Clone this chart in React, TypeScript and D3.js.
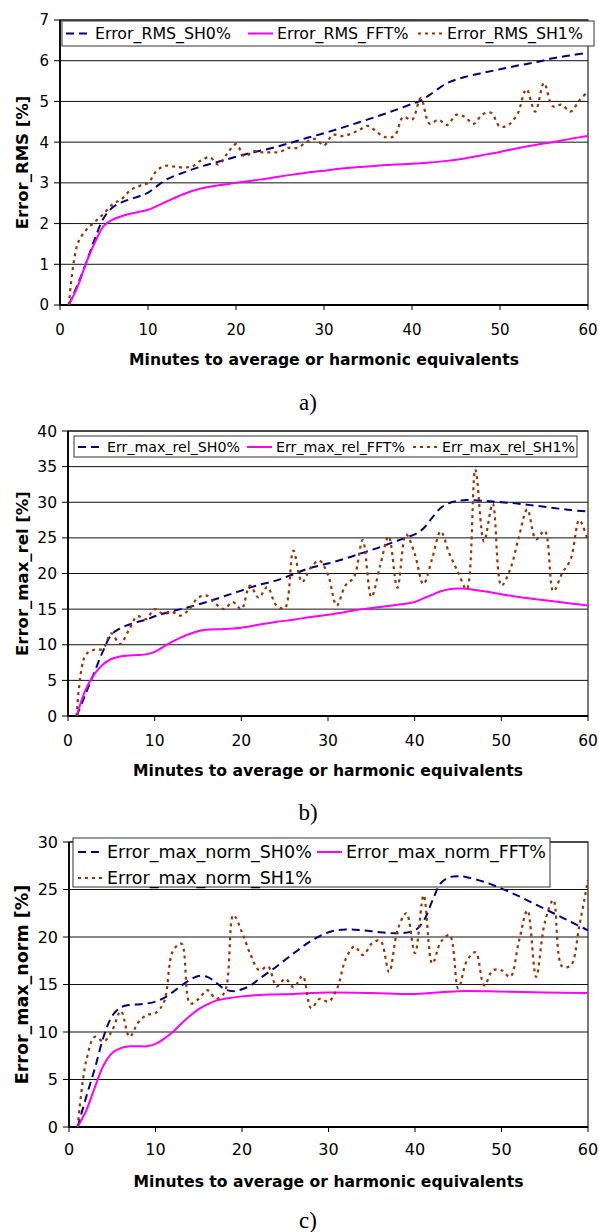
import React from 'react';
import * as d3 from 'd3';

// every minute 1..60 (used by the noisy SH1 series)
const MINUTES = [1,2,3,4,5,6,7,8,9,10,11,12,13,14,15,16,17,18,19,20,21,22,23,24,25,26,27,28,29,30,31,32,33,34,35,36,37,38,39,40,41,42,43,44,45,46,47,48,49,50,51,52,53,54,55,56,57,58,59,60];
const X_TICKS = [0, 10, 20, 30, 40, 50, 60];

// ---- panel a) Error_RMS ----
const A_SH0_X = [1,2,3,4,5,6,7,8,9,10,12,14,16,18,20,22,24,26,28,30,32,34,36,38,40,41,42,44,46,48,50,52,54,56,58,60];
const A_SH0 = [0,0.5,1.05,1.65,2.15,2.4,2.52,2.6,2.67,2.76,3.07,3.25,3.4,3.52,3.64,3.75,3.85,3.97,4.1,4.22,4.35,4.49,4.63,4.78,4.94,5.02,5.16,5.45,5.6,5.7,5.79,5.88,5.96,6.06,6.13,6.2];
const A_FFT_X = [1,2,3,4,5,6,7,8,9,10,12,14,16,18,20,22,24,26,28,30,32,34,36,38,40,42,44,46,48,50,52,54,56,58,60];
const A_FFT = [0,0.45,1.05,1.55,1.95,2.1,2.18,2.24,2.29,2.34,2.53,2.72,2.86,2.94,3.0,3.06,3.12,3.19,3.25,3.3,3.35,3.39,3.42,3.45,3.47,3.5,3.54,3.6,3.68,3.76,3.85,3.93,4.0,4.08,4.15];
const A_SH1 = [0,1.5,1.85,2.05,2.25,2.48,2.6,2.82,2.92,3.0,3.3,3.42,3.4,3.38,3.4,3.55,3.63,3.45,3.72,3.95,3.65,3.78,3.75,3.75,3.76,3.86,3.86,4.0,4.08,3.92,4.18,4.15,4.2,4.3,4.4,4.25,4.12,4.15,4.62,4.55,5.08,4.45,4.55,4.42,4.67,4.62,4.45,4.68,4.72,4.38,4.43,4.7,5.3,4.75,5.45,4.88,4.92,4.75,5.02,5.25];
const A_Y_TICKS = [0,1,2,3,4,5,6,7];

// ---- panel b) Error_max_rel ----
const B_SH0_X = [1,2,3,4,5,6,7,8,9,10,12,14,16,18,20,22,24,26,28,30,32,34,36,38,40,41,42,43,44,45,46,48,50,52,54,56,58,60];
const B_SH0 = [0,3.0,6.0,9.0,11.4,12.3,12.8,13.2,13.5,14.0,14.7,15.3,16.0,16.8,17.6,18.4,19.0,19.9,20.8,21.4,22.1,22.9,23.7,24.6,25.5,26.3,27.8,29.2,29.9,30.2,30.3,30.2,30.0,29.8,29.5,29.2,28.9,28.7];
const B_FFT_X = [1,2,3,4,5,6,7,8,9,10,11,12,13,14,15,16,18,20,22,24,26,28,30,32,34,36,38,40,41,42,43,44,45,46,48,50,52,54,56,58,60];
const B_FFT = [0,3.6,5.8,7.2,8.0,8.35,8.5,8.55,8.65,9.0,9.7,10.4,11.0,11.5,11.9,12.1,12.2,12.4,12.8,13.2,13.5,13.9,14.2,14.6,15.0,15.3,15.6,16.0,16.5,17.0,17.5,17.8,17.9,17.85,17.5,17.1,16.7,16.4,16.1,15.8,15.5];
const B_SH1 = [0,8.5,9.3,9.4,11.6,10.1,12.0,14.0,13.6,15.0,14.3,14.6,14.1,15.0,16.6,16.9,15.8,15.0,16.0,15.0,18.3,16.6,18.1,15.6,15.1,23.2,18.8,20.8,21.8,19.8,15.5,18.3,19.5,24.7,16.7,21.0,25.2,18.0,25.5,22.8,18.5,22.0,25.9,22.8,20.2,17.8,34.6,24.5,29.8,18.3,20.5,25.0,29.0,24.8,26.0,17.5,20.0,22.0,27.5,24.5];
const B_Y_TICKS = [0,5,10,15,20,25,30,35,40];

// ---- panel c) Error_max_norm ----
const C_SH0_X = [1,2,3,4,5,6,7,8,9,10,11,12,13,14,15,16,17,18,19,20,21,22,24,26,28,30,32,34,36,38,40,41,42,43,44,45,46,48,50,52,54,56,58,60];
const C_SH0 = [0,3.2,6.2,9.5,11.7,12.6,12.85,12.9,13.0,13.2,13.6,14.2,14.9,15.5,15.9,15.8,15.2,14.5,14.3,14.5,14.9,15.6,16.9,18.3,19.6,20.5,20.8,20.7,20.5,20.4,20.7,21.7,23.8,25.7,26.3,26.4,26.3,25.8,25.1,24.3,23.4,22.5,21.6,20.7];
const C_FFT_X = [1,2,3,4,5,6,7,8,9,10,11,12,13,14,15,16,17,18,20,22,24,26,28,30,35,40,45,50,55,60];
const C_FFT = [0,1.75,4.2,6.5,7.8,8.3,8.5,8.5,8.5,8.75,9.3,10.0,10.9,11.7,12.4,12.9,13.3,13.5,13.75,13.9,13.95,14.0,14.1,14.15,14.1,14.0,14.3,14.25,14.15,14.1];
const C_SH1 = [0,7.0,9.5,9.0,10.2,12.2,9.5,11.0,11.8,12.0,13.2,18.5,19.3,13.0,13.5,14.4,13.5,14.2,22.3,20.5,18.1,16.5,16.9,14.8,15.6,14.7,15.9,12.5,13.5,13.2,14.6,17.7,19.0,18.1,19.3,19.6,16.3,20.8,22.5,18.3,24.4,17.2,19.5,20.2,14.6,17.5,18.4,14.9,16.5,16.5,15.8,19.5,22.8,15.8,21.5,23.9,16.9,17.0,21.2,26.0];
const C_Y_TICKS = [0,5,10,15,20,25,30];

const X_TITLE = 'Minutes to average or harmonic equivalents';

type Kind = 'sh0' | 'fft' | 'sh1';
interface Series { name: string; kind: Kind; x: number[]; y: number[] }

const STYLE: Record<Kind, { stroke: string; width: number; dash?: string }> = {
  sh0: { stroke: '#000080', width: 2, dash: '8,5' },
  fft: { stroke: '#FF00FF', width: 2 },
  sh1: { stroke: '#993300', width: 2.2, dash: '3,4' },
};

interface LegendItem { kind: Kind; name: string; x: number; y: number }
interface PanelCfg {
  id: string;
  left: number; right: number; top: number; bottom: number;
  yMax: number; yTicks: number[];
  yTitle: string; yTitleSize: number;
  tickSize: number;
  series: Series[];
  legendBox: { x: number; y: number; w: number; h: number };
  legendItems: LegendItem[];
  legendFont: number;
  tickBase: number; titleBase: number; captionBase: number; caption: string;
}

const FONT = '"DejaVu Sans", sans-serif';

const panels: PanelCfg[] = [
  {
    id: 'a', left: 60, right: 588, top: 20, bottom: 305, yMax: 7, yTicks: A_Y_TICKS,
    yTitle: 'Error_RMS [%]', yTitleSize: 16.5, tickSize: 15,
    series: [
      { name: 'Error_RMS_SH0%', kind: 'sh0', x: A_SH0_X, y: A_SH0 },
      { name: 'Error_RMS_FFT%', kind: 'fft', x: A_FFT_X, y: A_FFT },
      { name: 'Error_RMS_SH1%', kind: 'sh1', x: MINUTES, y: A_SH1 },
    ],
    legendBox: { x: 62, y: 21, w: 532, h: 25 },
    legendItems: [
      { kind: 'sh0', name: 'Error_RMS_SH0%', x: 66, y: 33.5 },
      { kind: 'fft', name: 'Error_RMS_FFT%', x: 248, y: 33.5 },
      { kind: 'sh1', name: 'Error_RMS_SH1%', x: 418, y: 33.5 },
    ],
    legendFont: 15.8, tickBase: 335, titleBase: 365, captionBase: 410, caption: 'a)',
  },
  {
    id: 'b', left: 68, right: 588, top: 431, bottom: 716, yMax: 40, yTicks: B_Y_TICKS,
    yTitle: 'Error_max_rel [%]', yTitleSize: 16.5, tickSize: 15.5,
    series: [
      { name: 'Err_max_rel_SH0%', kind: 'sh0', x: B_SH0_X, y: B_SH0 },
      { name: 'Err_max_rel_FFT%', kind: 'fft', x: B_FFT_X, y: B_FFT },
      { name: 'Err_max_rel_SH1%', kind: 'sh1', x: MINUTES, y: B_SH1 },
    ],
    legendBox: { x: 74, y: 436, w: 503, h: 21 },
    legendItems: [
      { kind: 'sh0', name: 'Err_max_rel_SH0%', x: 78, y: 447 },
      { kind: 'fft', name: 'Err_max_rel_FFT%', x: 247, y: 447 },
      { kind: 'sh1', name: 'Err_max_rel_SH1%', x: 413, y: 447 },
    ],
    legendFont: 14.2, tickBase: 746, titleBase: 776, captionBase: 820, caption: 'b)',
  },
  {
    id: 'c', left: 69, right: 588, top: 842, bottom: 1127, yMax: 30, yTicks: C_Y_TICKS,
    yTitle: 'Error_max_norm [%]', yTitleSize: 17.5, tickSize: 16,
    series: [
      { name: 'Error_max_norm_SH0%', kind: 'sh0', x: C_SH0_X, y: C_SH0 },
      { name: 'Error_max_norm_FFT%', kind: 'fft', x: C_FFT_X, y: C_FFT },
      { name: 'Error_max_norm_SH1%', kind: 'sh1', x: MINUTES, y: C_SH1 },
    ],
    legendBox: { x: 73, y: 838, w: 477, h: 49 },
    legendItems: [
      { kind: 'sh0', name: 'Error_max_norm_SH0%', x: 78, y: 852 },
      { kind: 'fft', name: 'Error_max_norm_FFT%', x: 317, y: 852 },
      { kind: 'sh1', name: 'Error_max_norm_SH1%', x: 78, y: 878 },
    ],
    legendFont: 17.5, tickBase: 1155, titleBase: 1187, captionBase: 1228, caption: 'c)',
  },
];

const Panel: React.FC<{ cfg: PanelCfg }> = ({ cfg }) => {
  const x = d3.scaleLinear().domain([0, 60]).range([cfg.left, cfg.right]);
  const y = d3.scaleLinear().domain([0, cfg.yMax]).range([cfg.bottom, cfg.top]);
  const line = d3.line<[number, number]>()
    .x(d => x(d[0]))
    .y(d => y(d[1]))
    .curve(d3.curveCatmullRom.alpha(0.5));
  const clipId = `clip-${cfg.id}`;
  const midX = (cfg.left + cfg.right) / 2;
  const midY = (cfg.top + cfg.bottom) / 2;

  return (
    <g>
      <defs>
        <clipPath id={clipId}>
          <rect x={cfg.left} y={cfg.top - 2} width={cfg.right - cfg.left} height={cfg.bottom - cfg.top + 2} />
        </clipPath>
      </defs>
      {/* gridlines */}
      {cfg.yTicks.map(t => (
        <line key={`g${t}`} x1={cfg.left} x2={cfg.right} y1={y(t)} y2={y(t)} stroke="#111" strokeWidth={1} />
      ))}
      <rect x={cfg.left} y={cfg.top} width={cfg.right - cfg.left} height={cfg.bottom - cfg.top}
        fill="none" stroke="#222" strokeWidth={1.2} />
      {/* y axis */}
      <line x1={cfg.left} x2={cfg.left} y1={cfg.top} y2={cfg.bottom} stroke="#000" strokeWidth={1.8} />
      {cfg.yTicks.map(t => (
        <g key={`yt${t}`}>
          <line x1={cfg.left - 6} x2={cfg.left} y1={y(t)} y2={y(t)} stroke="#000" strokeWidth={1} />
          <text x={cfg.left - 11} y={y(t)} dy="0.36em" textAnchor="end"
            fontFamily={FONT} fontSize={cfg.tickSize}>{t}</text>
        </g>
      ))}
      {/* x axis */}
      <line x1={cfg.left} x2={cfg.right} y1={cfg.bottom} y2={cfg.bottom} stroke="#000" strokeWidth={1.8} />
      {X_TICKS.map(t => (
        <g key={`xt${t}`}>
          <line x1={x(t)} x2={x(t)} y1={cfg.bottom} y2={cfg.bottom + 5} stroke="#000" strokeWidth={1} />
          <text x={x(t)} y={cfg.tickBase} textAnchor="middle"
            fontFamily={FONT} fontSize={cfg.tickSize}>{t}</text>
        </g>
      ))}
      {/* legend box sits under the curves (curves show through it in the source) */}
      <rect x={cfg.legendBox.x} y={cfg.legendBox.y} width={cfg.legendBox.w} height={cfg.legendBox.h}
        fill="#fff" stroke="#333" strokeWidth={1} />
      {/* series */}
      <g clipPath={`url(#${clipId})`}>
        {cfg.series.map(s => {
          const st = STYLE[s.kind];
          const pts = s.x.map((v, i) => [v, s.y[i]] as [number, number]);
          return (
            <path key={s.name} d={line(pts) || ''} fill="none" stroke={st.stroke}
              strokeWidth={st.width} strokeDasharray={st.dash} />
          );
        })}
      </g>
      {cfg.legendItems.map(it => {
        const st = STYLE[it.kind];
        return (
          <g key={it.name}>
            <line x1={it.x} x2={it.x + 25} y1={it.y} y2={it.y} stroke={st.stroke}
              strokeWidth={st.width} strokeDasharray={st.dash} />
            <text x={it.x + 29} y={it.y} dy="0.36em" fontFamily={FONT} fontSize={cfg.legendFont}>{it.name}</text>
          </g>
        );
      })}
      {/* titles */}
      <text x={midX} y={cfg.titleBase} textAnchor="middle" fontFamily={FONT}
        fontWeight="bold" fontSize={15.6}>{X_TITLE}</text>
      <text transform={`translate(28,${midY}) rotate(-90)`} textAnchor="middle" fontFamily={FONT}
        fontWeight="bold" fontSize={cfg.yTitleSize}>{cfg.yTitle}</text>
      <text x={308} y={cfg.captionBase} textAnchor="middle" fontFamily='"Liberation Serif", serif'
        fontSize={23}>{cfg.caption}</text>
    </g>
  );
};

export default function App() {
  return (
    <div style={{ position: 'absolute', left: 0, top: 0, background: '#fff' }}>
      <svg width={599} height={1232} style={{ display: 'block' }}>
        <rect width={599} height={1232} fill="#fff" />
        {panels.map(p => <Panel key={p.id} cfg={p} />)}
      </svg>
    </div>
  );
}
